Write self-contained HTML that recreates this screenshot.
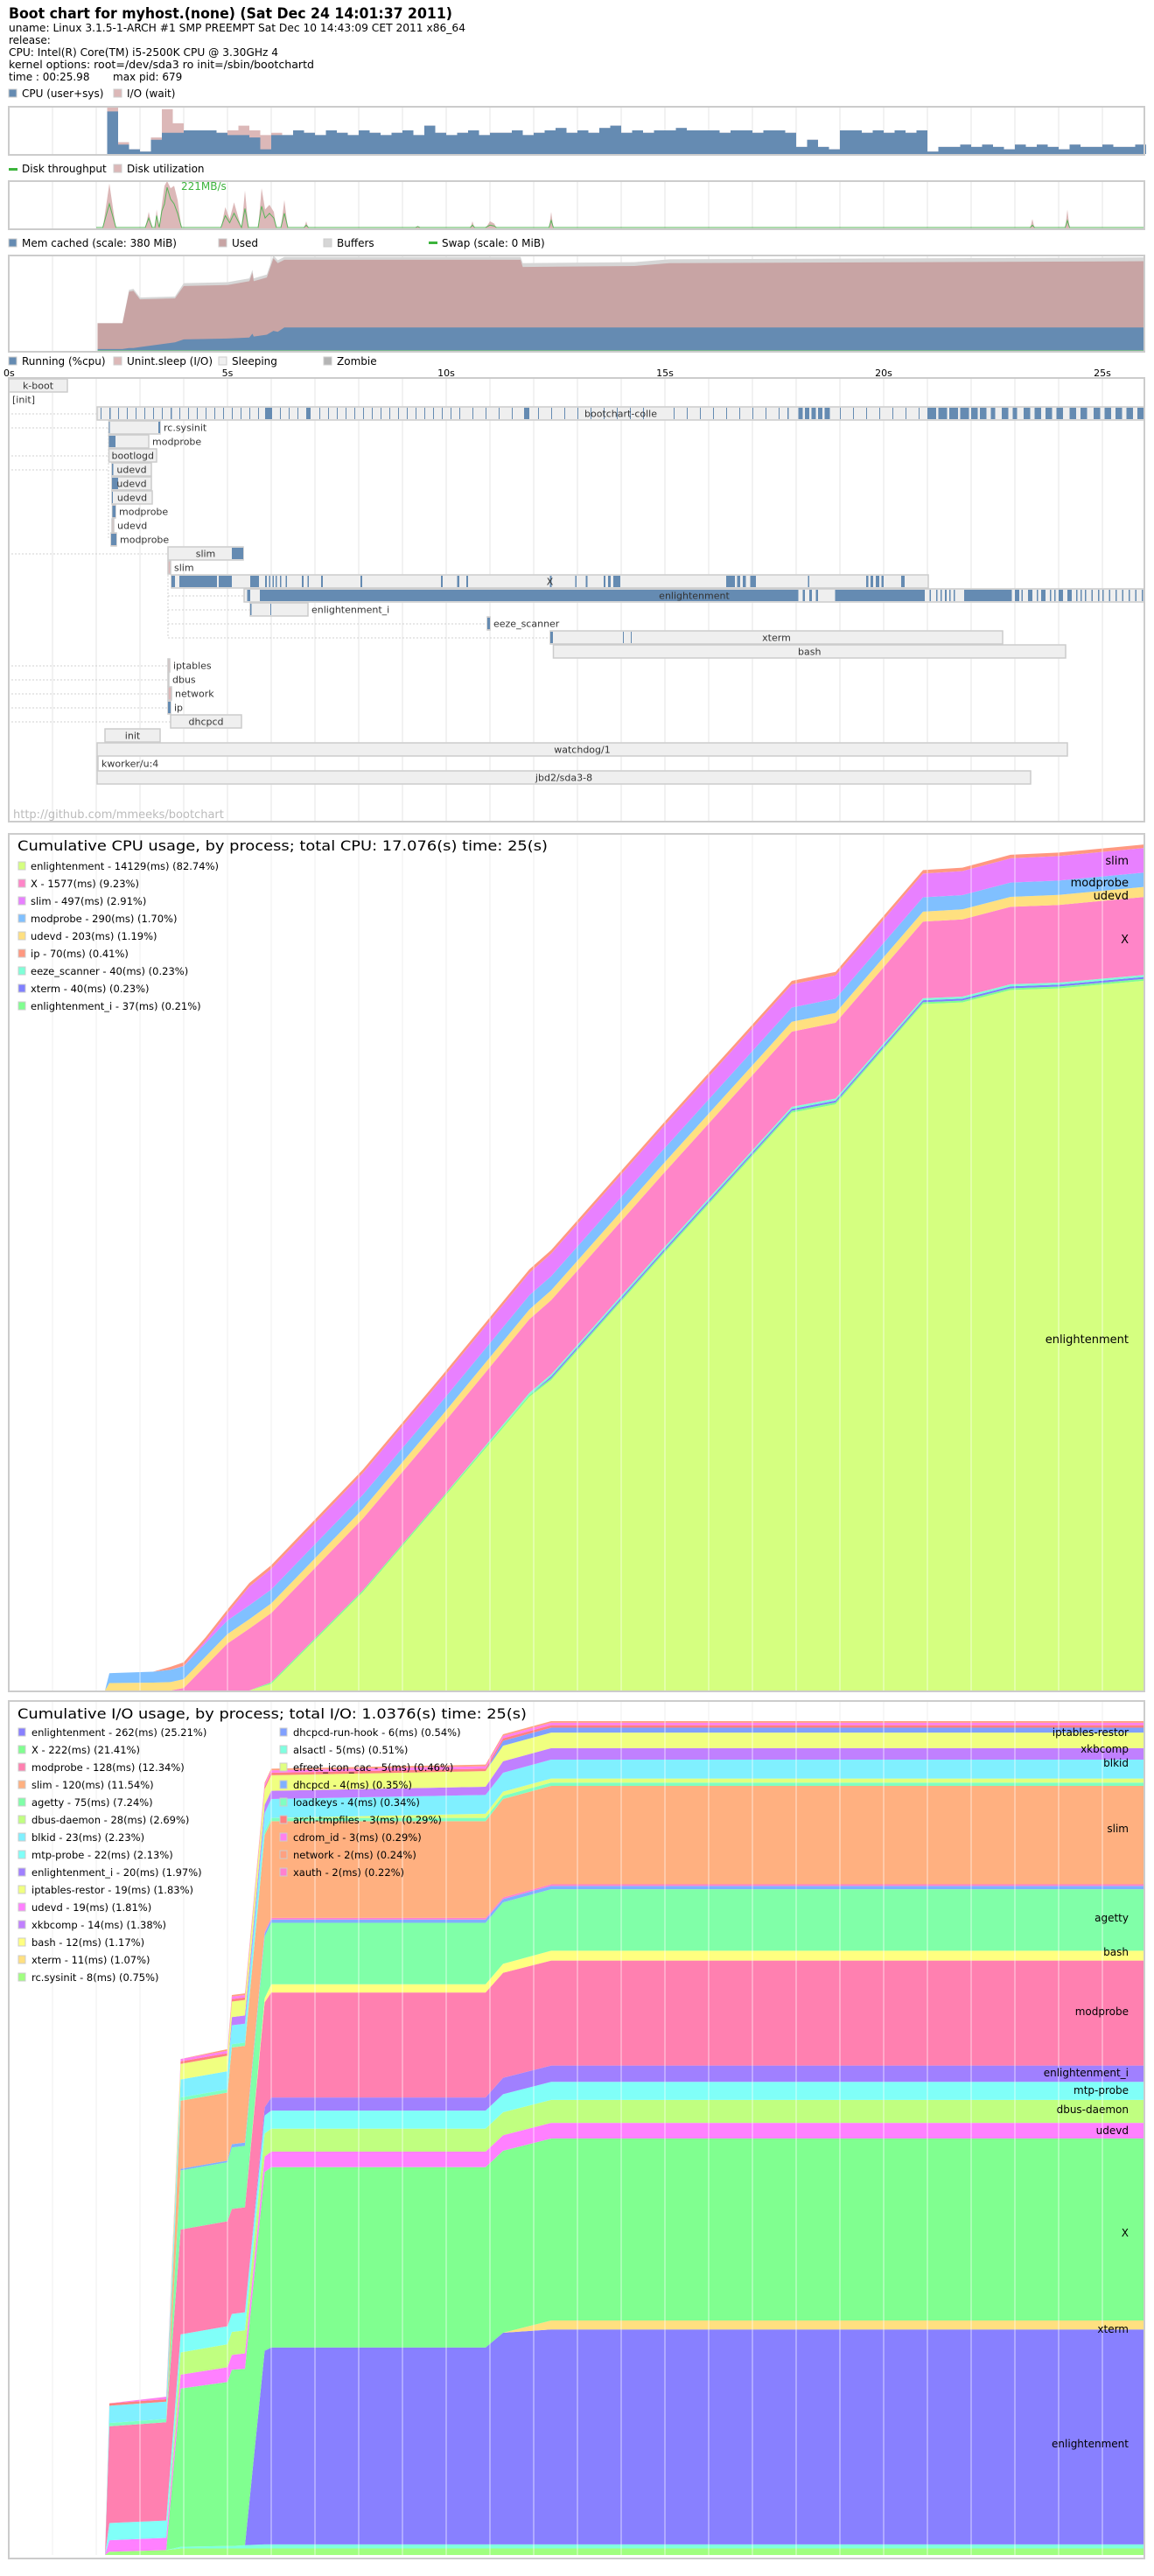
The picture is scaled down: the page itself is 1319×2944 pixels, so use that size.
<!DOCTYPE html>
<html><head><meta charset="utf-8"><style>
html,body{margin:0;padding:0;background:#fff;}
svg{display:block;}
text{font-family:"DejaVu Sans","Liberation Sans",sans-serif;fill:#000;}
</style></head><body>
<svg id="s" xmlns="http://www.w3.org/2000/svg" width="1319" height="2944" viewBox="0 0 1319 2944">
<rect x="0" y="0" width="1319" height="2944" fill="#fff"/>
<g id="header">
<text x="10" y="21" font-size="17" font-weight="bold" textLength="507" lengthAdjust="spacingAndGlyphs">Boot chart for myhost.(none) (Sat Dec 24 14:01:37 2011)</text>
<text x="10" y="36" font-size="12" textLength="522" lengthAdjust="spacingAndGlyphs">uname: Linux 3.1.5-1-ARCH #1 SMP PREEMPT Sat Dec 10 14:43:09 CET 2011 x86_64</text>
<text x="10" y="50" font-size="12">release:</text>
<text x="10" y="64" font-size="12" textLength="308" lengthAdjust="spacingAndGlyphs">CPU: Intel(R) Core(TM) i5-2500K CPU @ 3.30GHz 4</text>
<text x="10" y="78" font-size="12" textLength="349" lengthAdjust="spacingAndGlyphs">kernel options: root=/dev/sda3 ro init=/sbin/bootchartd</text>
<text x="10" y="92" font-size="12">time : 00:25.98</text>
<text x="129" y="92" font-size="12">max pid: 679</text>
</g>
<g id="legends">
<rect x="10" y="102" width="9" height="9" fill="#658bb2" stroke="#ccc"/>
<text x="25" y="111" font-size="12">CPU (user+sys)</text>
<rect x="130" y="102" width="9" height="9" fill="#dcb8b8" stroke="#ccc"/>
<text x="145" y="111" font-size="12">I/O (wait)</text>
<rect x="10" y="192" width="10" height="3" fill="#3cb43c"/>
<text x="25" y="197" font-size="12">Disk throughput</text>
<rect x="130" y="188" width="9" height="9" fill="#dcb8b8" stroke="#ccc"/>
<text x="145" y="197" font-size="12">Disk utilization</text>
<rect x="10" y="273" width="9" height="9" fill="#658bb2" stroke="#ccc"/>
<text x="25" y="282" font-size="12">Mem cached (scale: 380 MiB)</text>
<rect x="250" y="273" width="9" height="9" fill="#c8a4a4" stroke="#ccc"/>
<text x="265" y="282" font-size="12">Used</text>
<rect x="370" y="273" width="9" height="9" fill="#d6d6d6" stroke="#ccc"/>
<text x="385" y="282" font-size="12">Buffers</text>
<rect x="490" y="276" width="10" height="3" fill="#3cb43c"/>
<text x="505" y="282" font-size="12">Swap (scale: 0 MiB)</text>
<rect x="10" y="408" width="9" height="9" fill="#658bb2" stroke="#ccc"/>
<text x="25" y="417" font-size="12">Running (%cpu)</text>
<rect x="130" y="408" width="9" height="9" fill="#dcb8b8" stroke="#ccc"/>
<text x="145" y="417" font-size="12">Unint.sleep (I/O)</text>
<rect x="250" y="408" width="9" height="9" fill="#f0f0f0" stroke="#ccc"/>
<text x="265" y="417" font-size="12">Sleeping</text>
<rect x="370" y="408" width="9" height="9" fill="#b4b4b4" stroke="#ccc"/>
<text x="385" y="417" font-size="12">Zombie</text>
</g>
<g id="g-cpu"></g>
<g id="g-disk"></g>
<g id="g-mem"></g>
<g id="g-gantt"></g>
<g id="g-cumcpu"></g>
<g id="g-cumio"></g>
</svg>
<script>
// ---------- data ----------
const sampleStep = 0.25;
const cpuUser = [0,0,0,0,0,0,0,0,0,0.9,0.2,0.1,0.05,0.3,0.45,0.45,0.5,0.5,0.5,0.45,0.4,0.4,0.35,0.1,0.4,0.4,0.5,0.45,0.4,0.5,0.45,0.4,0.5,0.45,0.4,0.45,0.5,0.4,0.6,0.45,0.4,0.45,0.5,0.4,0.45,0.45,0.5,0.4,0.45,0.5,0.55,0.45,0.5,0.45,0.55,0.6,0.45,0.5,0.45,0.5,0.5,0.55,0.5,0.5,0.5,0.45,0.5,0.5,0.45,0.5,0.5,0.45,0.15,0.3,0.15,0.1,0.5,0.5,0.45,0.5,0.45,0.5,0.45,0.5,0.05,0.15,0.15,0.2,0.15,0.2,0.15,0.1,0.2,0.15,0.2,0.15,0.1,0.2,0.15,0.15,0.2,0.15,0.15,0.2];
const cpuIo = [0,0,0,0,0,0,0,0,0,0.1,0.05,0,0,0.05,0.5,0.2,0,0,0,0,0.1,0.2,0.15,0.3,0.05,0,0,0,0,0,0,0,0,0,0,0,0,0,0,0,0,0,0,0,0,0,0,0,0,0,0,0,0,0,0,0,0,0,0,0,0,0,0,0,0,0,0,0,0,0,0,0,0,0,0,0,0,0,0,0,0,0,0,0,0,0,0,0,0,0,0,0,0,0,0,0,0,0,0,0,0,0,0,0];
const diskTimes = [2.15,2.3,2.45,3.12,3.2,3.28,3.34,3.38,3.44,3.5,3.56,3.62,3.7,3.78,3.86,3.95,4.85,4.95,5.05,5.15,5.32,5.4,5.48,5.7,5.78,5.86,5.96,6.06,6.12,6.22,6.3,6.38,6.75,6.8,6.85,9.3,9.35,9.4,10.55,10.6,10.65,10.9,11.0,11.1,11.15,12.35,12.4,12.45,23.35,23.4,23.45,24.15,24.2,24.25];
const diskUtil = [0,0.95,0,0,0.35,0,0,0.4,0,0.5,0.9,1.0,0.85,0.9,0.6,0,0,0.45,0.2,0.55,0,0.8,0,0,0.85,0.4,0.5,0.35,0,0,0.6,0,0,0.15,0,0,0.05,0,0,0.15,0,0,0.15,0.1,0,0,0.35,0,0,0.2,0,0,0.4,0];
const diskThroughput = [0,0.5,0,0,0.2,0,0,0.25,0,0.35,0.5,0.85,0.6,0.5,0.3,0,0,0.25,0.1,0.3,0,0.4,0,0,0.45,0.2,0.3,0.2,0,0,0.3,0,0,0.05,0,0,0.02,0,0,0.05,0,0,0.05,0.03,0,0,0.15,0,0,0.05,0,0,0.15,0];
const memTimes = [2.03,2.6,2.75,2.85,3.0,3.8,4.0,5.0,5.5,5.57,5.6,5.9,6.05,6.15,6.3,9.0,11.7,11.75,14.3,15.1,25.98];
const memUsed = [0.29,0.29,0.62,0.63,0.54,0.55,0.68,0.69,0.73,0.82,0.73,0.77,0.97,0.92,0.955,0.955,0.955,0.88,0.89,0.92,0.94];
const memCached = [0.02,0.02,0.03,0.03,0.04,0.09,0.12,0.13,0.14,0.18,0.15,0.17,0.21,0.2,0.245,0.245,0.245,0.245,0.245,0.245,0.245];
const memBuffers = [0.0,0.0,0.02,0.02,0.02,0.02,0.03,0.03,0.03,0.03,0.03,0.03,0.03,0.03,0.03,0.03,0.03,0.04,0.04,0.04,0.04];

const procLabels = ['k-boot','[init]','bootchart-colle','rc.sysinit','modprobe','bootlogd','udevd','udevd','udevd','modprobe','udevd','modprobe','slim','slim','X','enlightenment','enlightenment_i','eeze_scanner','xterm','bash','iptables','dbus','network','ip','dhcpcd','init','watchdog/1','kworker/u:4','jbd2/sda3-8'];
const procStarts = [0,0,2.02,2.29,2.29,2.29,2.36,2.36,2.36,2.37,2.36,2.34,3.64,3.64,3.72,5.38,5.52,10.94,12.38,12.45,3.64,3.64,3.64,3.64,3.7,2.2,2.02,2.02,2.02];
const procEnds = [1.34,0,25.96,3.46,3.2,3.38,3.26,3.26,3.28,2.44,2.4,2.46,5.36,3.7,21.02,25.96,6.84,11.0,22.72,24.16,3.68,3.66,3.72,3.7,5.32,3.46,24.2,2.04,23.36];
// running (cpu) segments: one row index per list of [start, end] seconds
const runRowIds = [2,3,4,6,7,8,9,11,12,14,15,16,17,18,23];
const runSegments = [
 [[2.1,2.12],[2.3,2.33],[2.5,2.52],[2.7,2.72],[2.9,2.92],[3.1,3.12],[3.3,3.32],[3.5,3.52],[3.7,3.73],[3.9,3.92],[4.1,4.12],[4.3,4.32],[4.5,4.52],[4.7,4.72],[4.9,4.92],[5.1,5.12],[5.3,5.32],[5.5,5.52],[5.7,5.72],[5.86,6.02],[6.2,6.22],[6.4,6.42],[6.6,6.62],[6.8,6.9],[7.1,7.12],[7.3,7.32],[7.5,7.52],[7.7,7.72],[7.9,7.92],[8.1,8.12],[8.3,8.32],[8.5,8.52],[8.7,8.72],[8.9,8.92],[9.1,9.12],[9.3,9.32],[9.5,9.52],[9.7,9.72],[9.9,9.92],[10.1,10.12],[10.3,10.32],[10.6,10.62],[10.9,10.92],[11.2,11.22],[11.5,11.52],[11.78,11.9],[12.1,12.12],[12.4,12.42],[12.7,12.72],[13.0,13.02],[13.3,13.32],[13.6,13.62],[13.9,13.92],[14.2,14.22],[14.5,14.52],[15.2,15.22],[15.5,15.52],[15.8,15.82],[16.1,16.12],[16.4,16.42],[16.7,16.72],[17.0,17.02],[17.3,17.32],[17.6,17.62],[17.8,17.83],[18.05,18.15],[18.2,18.3],[18.35,18.45],[18.5,18.6],[18.65,18.77],[19.0,19.02],[19.3,19.32],[19.6,19.62],[19.9,19.92],[20.2,20.22],[20.5,20.52],[20.8,20.82],[21.0,21.2],[21.25,21.45],[21.5,21.7],[21.75,21.95],[22.0,22.15],[22.2,22.35],[22.45,22.55],[22.7,22.85],[22.95,23.05],[23.2,23.35],[23.45,23.6],[23.7,23.85],[23.95,24.1],[24.25,24.4],[24.5,24.65],[24.8,24.95],[25.05,25.2],[25.3,25.45],[25.55,25.7],[25.8,25.95]],
 [[2.29,2.31],[3.42,3.46]],
 [[2.29,2.44]],
 [[2.36,2.39]],
 [[2.36,2.5]],
 [[2.36,2.38]],
 [[2.37,2.44]],
 [[2.34,2.46]],
 [[5.1,5.36]],
 [[3.72,3.8],[3.9,4.76],[4.8,5.1],[5.52,5.72],[5.86,5.9],[5.95,5.98],[6.03,6.06],[6.1,6.13],[6.2,6.23],[6.33,6.36],[6.7,6.74],[6.83,6.86],[7.14,7.18],[8.04,8.08],[9.88,9.92],[10.25,10.3],[10.46,10.5],[12.37,12.41],[12.95,12.98],[13.19,13.23],[13.6,13.64],[13.7,13.76],[13.82,13.98],[16.4,16.6],[16.65,16.72],[16.78,16.85],[16.95,17.08],[18.27,18.3],[19.6,19.65],[19.7,19.76],[19.82,19.9],[19.95,20.0],[20.4,20.48]],
 [[5.45,5.52],[5.74,18.05],[18.15,18.2],[18.3,18.36],[18.45,18.5],[18.89,20.94],[21.05,21.08],[21.2,21.23],[21.3,21.33],[21.4,21.44],[21.5,21.53],[21.6,21.63],[21.84,22.93],[23.0,23.1],[23.15,23.18],[23.3,23.4],[23.5,23.53],[23.6,23.7],[23.8,23.83],[23.9,23.93],[24.0,24.1],[24.2,24.3],[24.4,24.43],[24.5,24.53],[24.6,24.63],[24.75,24.78],[24.9,24.93],[25.0,25.03],[25.15,25.18],[25.3,25.33],[25.45,25.48],[25.6,25.63],[25.75,25.78],[25.9,25.93]],
 [[5.52,5.55],[5.98,6.0]],
 [[10.94,11.0]],
 [[12.38,12.44],[14.04,14.06],[14.22,14.24]],
 [[3.64,3.7]]
];

const cumCpuTimes = [2.2,2.3,3.3,3.7,4.0,4.5,5.0,5.5,6.0,8.1,9.9,11.9,12.4,14.95,17.9,18.9,20.9,21.8,22.9,24.0,25.98];
const cpuProcNames = ['enlightenment','enlightenment_i','xterm','eeze_scanner','X','udevd','modprobe','slim','ip'];
const cpuProcColors = ['#d5ff80','#80ff90','#8080ff','#80ffd8','#ff85c8','#ffe080','#80c0ff','#e880ff','#ff9880'];
const cpuEnlightenment = [0,0,0,0,0,0,0,0,135,1993,3851,5934,6272,8805,11677,11846,13872,13906,14154,14188,14345];
const cpuEnlightenmentI = [0,0,0,0,0,0,0,0,30,37,37,37,37,37,37,37,37,37,37,37,37];
const cpuXterm = [0,0,0,0,0,0,0,0,0,0,0,0,40,40,40,40,40,40,40,40,40];
const cpuEeze = [0,0,0,0,0,0,0,0,0,0,0,40,40,40,40,40,40,40,40,40,40];
const cpuX = [0,0,0,0,50,500,950,1250,1400,1450,1470,1490,1500,1510,1520,1530,1550,1560,1565,1570,1577];
const cpuUdevd = [0,150,160,170,180,185,190,192,194,196,197,198,198,199,200,200,201,202,202,203,203];
const cpuModprobe = [0,200,220,250,260,270,275,280,282,284,285,286,286,287,288,288,289,289,290,290,290];
const cpuSlim = [0,0,0,0,10,50,150,380,420,440,450,455,458,462,468,470,480,485,490,495,497];
const cpuIp = [0,0,0,60,70,70,70,70,70,70,70,70,70,70,70,70,70,70,70,70,70];
const cpuLegendLabels = ['enlightenment - 14129(ms) (82.74%)','X - 1577(ms) (9.23%)','slim - 497(ms) (2.91%)','modprobe - 290(ms) (1.70%)','udevd - 203(ms) (1.19%)','ip - 70(ms) (0.41%)','eeze_scanner - 40(ms) (0.23%)','xterm - 40(ms) (0.23%)','enlightenment_i - 37(ms) (0.21%)'];
const cpuLegendColors = ['#d5ff80','#ff85c8','#e880ff','#80c0ff','#ffe080','#ff9880','#80ffd8','#8080ff','#80ff90'];

const cumIoTimes = [2.2,2.3,3.6,3.93,5.0,5.1,5.4,5.85,6.0,10.9,11.3,12.4,25.98];
const ioProcNames = ['rc.sysinit','alsactl','enlightenment','xterm','X','udevd','dbus-daemon','mtp-probe','enlightenment_i','modprobe','bash','agetty','dhcpcd','xauth','slim','loadkeys','efreet_icon_cac','blkid','xkbcomp','iptables-restor','dhcpcd-run-hook','arch-tmpfiles','cdrom_id','network'];
const ioProcColors = ['#a0ff80','#80ffe0','#8880ff','#ffe080','#80ff90','#ff80ff','#c0ff80','#80fff8','#a080ff','#ff80b0','#ffff80','#80ffa8','#80b0ff','#ff80d0','#ffb080','#80ffc0','#e0ff80','#80f0ff','#c080ff','#f0ff80','#80a0ff','#ff8080','#ff80f0','#ffa080'];
const ioRcSysinit = [0,4,6,8,8,8,8,8,8,8,8,8,8];
const ioAlsactl = [0,0,0,2,3,3,4,5,5,5,5,5,5];
const ioEnlightenment = [0,0,0,0,0,0,0,236,240,240,258,262,262];
const ioXterm = [0,0,0,0,0,0,0,0,0,0,0,11,11];
const ioX = [0,0,0,193,200,215,215,218,220,220,222,222,222];
const ioUdevd = [0,14,15,17,18,18,19,19,19,19,19,19,19];
const ioDbus = [0,0,0,27,28,28,28,28,28,28,28,28,28];
const ioMtp = [0,21,21,22,22,22,22,22,22,22,22,22,22];
const ioEnlightenmentI = [0,0,0,0,0,0,0,10,16,16,20,20,20];
const ioModprobe = [0,118,120,128,128,128,128,128,128,128,128,128,128];
const ioBash = [0,0,0,0,0,0,0,5,10,10,11,12,12];
const ioAgetty = [0,0,0,72,72,75,75,75,75,75,75,75,75];
const ioDhcpcd = [0,0,0,2,2,4,4,4,4,4,4,4,4];
const ioXauth = [0,0,0,0,0,0,0,2,2,2,2,2,2];
const ioSlim = [0,0,0,83,83,118,118,118,118,118,120,120,120];
const ioLoadkeys = [0,4,4,4,4,4,4,4,4,4,4,4,4];
const ioEfreet = [0,0,0,0,0,0,0,0,0,5,5,5,5];
const ioBlkid = [0,21,21,22,22,23,23,23,23,23,23,23,23];
const ioXkbcomp = [0,0,0,0,0,10,10,10,10,10,14,14,14];
const ioIptables = [0,0,0,19,19,19,19,19,19,19,19,19,19];
const ioDhcpcdHook = [0,0,0,0,0,0,0,0,0,0,6,6,6];
const ioArchTmp = [0,3,3,3,3,3,3,3,3,3,3,3,3];
const ioCdrom = [0,0,3,3,3,3,3,3,3,3,3,3,3];
const ioNetwork = [0,0,0,0,2,2,2,2,2,2,2,2,2];
const ioLegendLabels = ['enlightenment - 262(ms) (25.21%)','X - 222(ms) (21.41%)','modprobe - 128(ms) (12.34%)','slim - 120(ms) (11.54%)','agetty - 75(ms) (7.24%)','dbus-daemon - 28(ms) (2.69%)','blkid - 23(ms) (2.23%)','mtp-probe - 22(ms) (2.13%)','enlightenment_i - 20(ms) (1.97%)','iptables-restor - 19(ms) (1.83%)','udevd - 19(ms) (1.81%)','xkbcomp - 14(ms) (1.38%)','bash - 12(ms) (1.17%)','xterm - 11(ms) (1.07%)','rc.sysinit - 8(ms) (0.75%)','dhcpcd-run-hook - 6(ms) (0.54%)','alsactl - 5(ms) (0.51%)','efreet_icon_cac - 5(ms) (0.46%)','dhcpcd - 4(ms) (0.35%)','loadkeys - 4(ms) (0.34%)','arch-tmpfiles - 3(ms) (0.29%)','cdrom_id - 3(ms) (0.29%)','network - 2(ms) (0.24%)','xauth - 2(ms) (0.22%)'];
const ioLegendColors = ['#8880ff','#80ff90','#ff80b0','#ffb080','#80ffa8','#c0ff80','#80f0ff','#80fff8','#a080ff','#f0ff80','#ff80ff','#c080ff','#ffff80','#ffe080','#a0ff80','#80a0ff','#80ffe0','#e0ff80','#80b0ff','#80ffc0','#ff8080','#ff80f0','#ffa080','#ff80d0'];
const ioSideLabels = ['iptables-restor','xkbcomp','blkid','slim','agetty','bash','modprobe','enlightenment_i','mtp-probe','dbus-daemon','udevd','X','xterm','enlightenment'];

// ---------- helpers ----------
const NS = 'http://www.w3.org/2000/svg';
const X0 = 10, PXS = 50, XR = 1308;
const tx = t => X0 + PXS * t;
function mk(tag, parent) { const e = document.createElementNS(NS, tag); parent.appendChild(e); return e; }
function gridlines(g, y1, y2, color, name) {
  for (let s = 1; tx(s) < XR; s++) {
    const l = mk('line', g);
    
    
    l.setAttribute('x1', tx(s)); l.setAttribute('x2', tx(s));
    l.setAttribute('y1', y1); l.setAttribute('y2', y2);
    l.setAttribute('stroke', color); l.setAttribute('stroke-width', 1.5);
  }
}
function frame(g, y1, y2, name) {
  const r = mk('rect', g);
  
  
  r.setAttribute('x', X0); r.setAttribute('y', y1);
  r.setAttribute('width', XR - X0); r.setAttribute('height', y2 - y1);
  r.setAttribute('fill', 'none'); r.setAttribute('stroke', '#cccccc'); r.setAttribute('stroke-width', 2);
}
function stepPath(vals, base, h, offs) {
  let d = 'M' + tx(0) + ' ' + base;
  for (let i = 0; i < vals.length; i++) {
    const v = vals[i] + (offs ? offs[i] : 0);
    const y = base - Math.min(1, v) * h;
    d += ' L' + tx(i * sampleStep) + ' ' + y + ' L' + tx((i + 1) * sampleStep) + ' ' + y;
  }
  d += ' L' + tx(vals.length * sampleStep) + ' ' + base + ' Z';
  return d;
}
function linePath(times, vals, base, h, close) {
  let d = '';
  for (let i = 0; i < times.length; i++) d += (i ? ' L' : 'M') + tx(times[i]) + ' ' + (base - vals[i] * h);
  if (close) d += ' L' + tx(times[times.length - 1]) + ' ' + base + ' L' + tx(times[0]) + ' ' + base + ' Z';
  return d;
}

// ---------- CPU chart ----------
(function () {
  const g = document.getElementById('g-cpu');
  const top = 122, base = 176, h = base - top;
  gridlines(g, top, base, '#eeeeee', 'cpu-gridline');
  const io = mk('path', g);
  
  
  io.setAttribute('d', stepPath(cpuIo, base, h, cpuUser)); io.setAttribute('fill', '#dcb8b8');
  const cu = mk('path', g);
  
  
  cu.setAttribute('d', stepPath(cpuUser, base, h)); cu.setAttribute('fill', '#658bb2');
  frame(g, top, base + 1, 'cpu-chart-frame');
})();

// ---------- Disk chart ----------
(function () {
  const g = document.getElementById('g-disk');
  const top = 207, base = 261, h = base - top;
  gridlines(g, top, base, '#eeeeee', 'disk-gridline');
  const u = mk('path', g);
  
  
  u.setAttribute('d', linePath(diskTimes, diskUtil, base, h, true)); u.setAttribute('fill', '#dcb8b8');
  const t = mk('path', g);
  
  
  t.setAttribute('d', linePath([2.0].concat(diskTimes, [25.98]), [0].concat(diskThroughput, [0]), base - 1, h, false));
  t.setAttribute('fill', 'none'); t.setAttribute('stroke', '#5ab45a'); t.setAttribute('stroke-width', 1);
  const lbl = mk('text', g);
  
  
  lbl.setAttribute('x', 207); lbl.setAttribute('y', 217); lbl.setAttribute('font-size', 12);
  lbl.setAttribute('style', 'fill:#3cb43c'); lbl.textContent = '221MB/s';
  frame(g, top, base + 1, 'disk-chart-frame');
})();

// ---------- Mem chart ----------
(function () {
  const g = document.getElementById('g-mem');
  const top = 292, base = 401, h = base - top;
  gridlines(g, top, base, '#eeeeee', 'mem-gridline');
  const buf = memUsed.map((v, i) => v + memBuffers[i]);
  const b = mk('path', g);
  
  
  b.setAttribute('d', linePath(memTimes, buf, base, h, true)); b.setAttribute('fill', '#d6d6d6');
  const u = mk('path', g);
  
  
  u.setAttribute('d', linePath(memTimes, memUsed, base, h, true)); u.setAttribute('fill', '#c8a4a4');
  const c = mk('path', g);
  
  
  c.setAttribute('d', linePath(memTimes, memCached, base, h, true)); c.setAttribute('fill', '#658bb2');
  const sw = mk('line', g);
  
  
  sw.setAttribute('x1', tx(memTimes[0])); sw.setAttribute('x2', XR); sw.setAttribute('y1', base); sw.setAttribute('y2', base);
  sw.setAttribute('stroke', '#7cc47c'); sw.setAttribute('stroke-width', 1.5);
  frame(g, top, base + 1, 'mem-chart-frame');
})();

// ---------- Gantt ----------
(function () {
  const g = document.getElementById('g-gantt');
  const top = 432, bottom = 939, rowTop = 433, rowH = 16, boxH = 15;
  gridlines(g, top, bottom, '#eeeeee', 'process-gridline');
  for (let s = 0; s <= 25; s += 5) {
    const t = mk('text', g);
    
    
    t.setAttribute('x', s === 0 ? 4 : tx(s)); t.setAttribute('y', 430);
    t.setAttribute('font-size', 11); t.setAttribute('text-anchor', s === 0 ? 'start' : 'middle');
    t.textContent = s + 's';
  }
  const conn = [[2,13,111],[3,13,124],[5,13,124],[6,13,124],[12,13,192],[15,192,279],[16,192,286],[17,192,557],[18,192,629],[20,13,192],[21,13,192],[22,13,192],[23,13,192],[24,13,195]];
  conn.forEach(c => {
    const l = mk('line', g);
    
    
    const y = rowTop + c[0] * rowH + 8;
    l.setAttribute('x1', c[1]); l.setAttribute('x2', c[2]); l.setAttribute('y1', y); l.setAttribute('y2', y);
    l.setAttribute('stroke', '#d0d0d0'); l.setAttribute('stroke-dasharray', '2,2');
  });
  [[124, 3, 11], [192, 12, 18]].forEach(v => {
    const l = mk('line', g);
    
    
    l.setAttribute('x1', v[0]); l.setAttribute('x2', v[0]);
    l.setAttribute('y1', rowTop + v[1] * rowH + 8); l.setAttribute('y2', rowTop + v[2] * rowH + 8);
    l.setAttribute('stroke', '#d0d0d0'); l.setAttribute('stroke-dasharray', '2,2');
  });
  for (let i = 0; i < procLabels.length; i++) {
    const y = rowTop + i * rowH;
    const x1 = tx(procStarts[i]), x2 = tx(procEnds[i]), w = x2 - x1;
    if (w > 0) {
      const r = mk('rect', g);
      
      
      r.setAttribute('x', x1); r.setAttribute('y', y); r.setAttribute('width', w); r.setAttribute('height', boxH);
      r.setAttribute('fill', w > 8 ? '#efefef' : '#dcb8b8'); r.setAttribute('stroke', '#cccccc'); r.setAttribute('stroke-width', 1.5);
    }
  }
  runRowIds.forEach((row, k) => {
    const y = rowTop + row * rowH;
    runSegments[k].forEach(seg => {
      const r = mk('rect', g);
      
      
      r.setAttribute('x', tx(seg[0])); r.setAttribute('y', y + 1);
      r.setAttribute('width', Math.max(1, tx(seg[1]) - tx(seg[0]))); r.setAttribute('height', boxH - 2);
      r.setAttribute('fill', '#658bb2');
    });
  });
  for (let i = 0; i < procLabels.length; i++) {
    const y = rowTop + i * rowH;
    const x1 = tx(procStarts[i]), x2 = tx(procEnds[i]), w = x2 - x1;
    const tw = procLabels[i].length * 6.2;
    const t = mk('text', g);
    
    
    t.setAttribute('font-size', 11); t.setAttribute('y', y + 11.5);
    t.setAttribute('style', 'fill:#333');
    if (w > tw) { t.setAttribute('x', (x1 + x2) / 2); t.setAttribute('text-anchor', 'middle'); }
    else { t.setAttribute('x', (w > 0 ? x2 : x1) + 4); }
    t.textContent = procLabels[i];
  }
  const url = mk('text', g);
  
  
  url.setAttribute('x', 15); url.setAttribute('y', 935); url.setAttribute('font-size', 13);
  url.setAttribute('style', 'fill:#bbbbbb'); url.textContent = 'http://github.com/mmeeks/bootchart';
  frame(g, top, bottom, 'process-chart-frame');
})();

// ---------- Cumulative charts ----------
function cumChart(g, times, series, colors, names, base, topY, nm) {
  const n = times.length;
  const totals = times.map((_, j) => series.reduce((a, s) => a + s[j], 0));
  const maxT = Math.max(...totals);
  const ys = v => base - v / maxT * (base - topY);
  let lower = new Array(n).fill(0);
  series.forEach((s, k) => {
    const upper = lower.map((v, j) => v + s[j]);
    let d = '';
    for (let j = 0; j < n; j++) d += (j ? ' L' : 'M') + tx(times[j]) + ' ' + ys(upper[j]);
    for (let j = n - 1; j >= 0; j--) d += ' L' + tx(times[j]) + ' ' + ys(lower[j]);
    const p = mk('path', g);
    
    
    p.setAttribute('d', d + ' Z'); p.setAttribute('fill', colors[k]);
    lower = upper;
  });
}
(function () {
  const g = document.getElementById('g-cumcpu');
  const base = 1932, topY = 965;
  gridlines(g, 954, base, '#eeeeee', 'cumcpu-gridline-bg');
  cumChart(g, cumCpuTimes, [cpuEnlightenment, cpuEnlightenmentI, cpuXterm, cpuEeze, cpuX, cpuUdevd, cpuModprobe, cpuSlim, cpuIp], cpuProcColors, cpuProcNames, base, topY, 'cumcpu');
  gridlines(g, 954, base, 'rgba(255,255,255,0.45)', 'cumcpu-gridline');
  const ti = mk('text', g);
  
  
  ti.setAttribute('x', 20); ti.setAttribute('y', 972); ti.setAttribute('font-size', 16);
  ti.setAttribute('textLength', 606); ti.setAttribute('lengthAdjust', 'spacingAndGlyphs');
  ti.textContent = 'Cumulative CPU usage, by process; total CPU:  17.076(s) time: 25(s)';
  cpuLegendLabels.forEach((lab, i) => {
    const r = mk('rect', g);
    
    
    r.setAttribute('x', 21); r.setAttribute('y', 985 + i * 20); r.setAttribute('width', 8); r.setAttribute('height', 9);
    r.setAttribute('fill', cpuLegendColors[i]); r.setAttribute('stroke', '#ccc');
    const t = mk('text', g);
    
    
    t.setAttribute('x', 35); t.setAttribute('y', 994 + i * 20); t.setAttribute('font-size', 11.5);
    t.textContent = lab;
  });
  [['slim', 988], ['modprobe', 1013], ['udevd', 1028], ['X', 1078], ['enlightenment', 1535]].forEach(a => {
    const t = mk('text', g);
    
    
    t.setAttribute('x', 1290); t.setAttribute('y', a[1]); t.setAttribute('font-size', 13); t.setAttribute('text-anchor', 'end');
    t.textContent = a[0];
  });
  frame(g, 953, 1933, 'cumcpu-frame');
})();
(function () {
  const g = document.getElementById('g-cumio');
  const base = 2920, topY = 1967;
  gridlines(g, 1945, base, '#eeeeee', 'cumio-gridline-bg');
  cumChart(g, cumIoTimes, [ioRcSysinit, ioAlsactl, ioEnlightenment, ioXterm, ioX, ioUdevd, ioDbus, ioMtp, ioEnlightenmentI, ioModprobe, ioBash, ioAgetty, ioDhcpcd, ioXauth, ioSlim, ioLoadkeys, ioEfreet, ioBlkid, ioXkbcomp, ioIptables, ioDhcpcdHook, ioArchTmp, ioCdrom, ioNetwork], ioProcColors, ioProcNames, base, topY, 'cumio');
  gridlines(g, 1945, base, 'rgba(255,255,255,0.45)', 'cumio-gridline');
  const ti = mk('text', g);
  
  
  ti.setAttribute('x', 20); ti.setAttribute('y', 1964); ti.setAttribute('font-size', 16);
  ti.setAttribute('textLength', 582); ti.setAttribute('lengthAdjust', 'spacingAndGlyphs');
  ti.textContent = 'Cumulative I/O usage, by process; total I/O:  1.0376(s) time: 25(s)';
  ioLegendLabels.forEach((lab, i) => {
    const col = i < 15 ? 0 : 1, row = i < 15 ? i : i - 15;
    const r = mk('rect', g);
    
    
    r.setAttribute('x', col ? 320 : 21); r.setAttribute('y', 1975 + row * 20); r.setAttribute('width', 8); r.setAttribute('height', 9);
    r.setAttribute('fill', ioLegendColors[i]); r.setAttribute('stroke', '#ccc');
    const t = mk('text', g);
    
    
    t.setAttribute('x', col ? 335 : 36); t.setAttribute('y', 1984 + row * 20); t.setAttribute('font-size', 11.5);
    t.textContent = lab;
  });
  const sideY = [1984, 2003, 2019, 2094, 2196, 2235, 2303, 2373, 2393, 2415, 2439, 2556, 2666, 2797];
  ioSideLabels.forEach((lab, i) => {
    const t = mk('text', g);
    
    
    t.setAttribute('x', 1290); t.setAttribute('y', sideY[i]); t.setAttribute('font-size', 12); t.setAttribute('text-anchor', 'end');
    t.textContent = lab;
  });
  frame(g, 1944, 2924, 'cumio-frame');
})();
</script>
</body></html>
